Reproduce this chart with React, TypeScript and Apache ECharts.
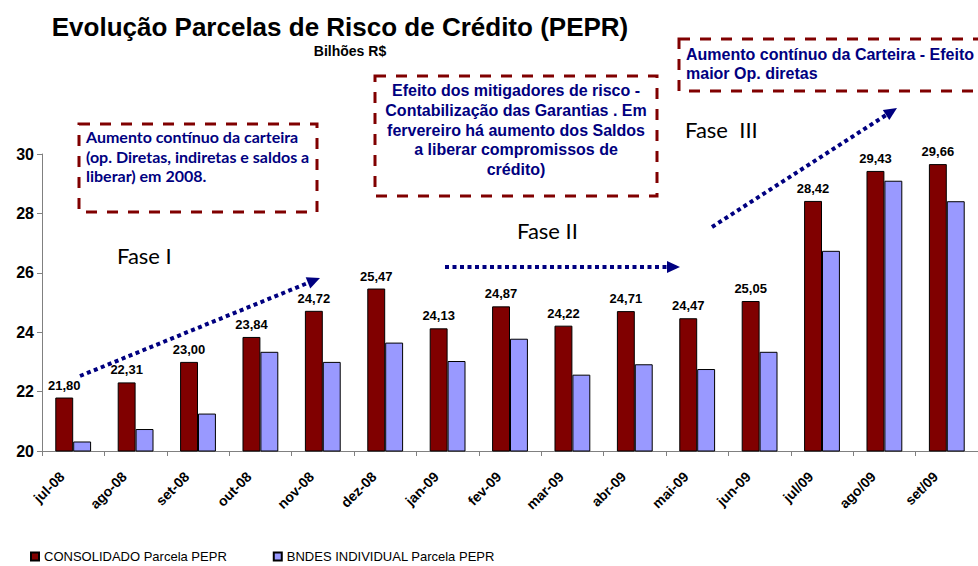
import React, { useEffect, useRef } from "react";
import * as echarts from "echarts";

const categories = ["jul-08", "ago-08", "set-08", "out-08", "nov-08", "dez-08", "jan-09", "fev-09", "mar-09", "abr-09", "mai-09", "jun-09", "jul/09", "ago/09", "set/09"];
const consolidado = [21.8, 22.31, 23.0, 23.84, 24.72, 25.47, 24.13, 24.87, 24.22, 24.71, 24.47, 25.05, 28.42, 29.43, 29.66];
const bndes = [20.32, 20.74, 21.26, 23.34, 23.0, 23.65, 23.03, 23.78, 22.57, 22.92, 22.76, 23.34, 26.74, 29.1, 28.41];
const seriesNames = ["CONSOLIDADO Parcela PEPR", "BNDES INDIVIDUAL Parcela PEPR"];
const yTicks = { min: 20, max: 30, interval: 2 };

const ARIAL = "'Liberation Sans', Arial, sans-serif";
const NAVY = "#000080";
const DARKRED = "#800000";

function arrow(x1: number, y1: number, x2: number, y2: number) {
  const ang = Math.atan2(y2 - y1, x2 - x1);
  const c = Math.cos(ang), s = Math.sin(ang);
  const L = 13, W = 6;
  const bx = x2 - L * c, by = y2 - L * s;
  return [
    {
      type: "line",
      shape: { x1, y1, x2: bx, y2: by },
      style: { stroke: NAVY, lineWidth: 4, lineDash: [4, 3.5] },
      silent: true,
    },
    {
      type: "polygon",
      shape: { points: [[x2, y2], [bx - W * s, by + W * c], [bx + W * s, by - W * c]] },
      style: { fill: NAVY },
      silent: true,
    },
  ];
}

function dashedBox(x: number, y: number, w: number, h: number) {
  return {
    type: "rect",
    shape: { x, y, width: w, height: h },
    style: { fill: "transparent", stroke: DARKRED, lineWidth: 3, lineDash: [11, 10] },
    silent: true,
  };
}

export default function App() {
  const ref = useRef<HTMLDivElement>(null);
  useEffect(() => {
    if (!ref.current) return;
    const chart = echarts.init(ref.current, undefined, { renderer: "svg" });
    const fmt = (v: number) => v.toFixed(2).replace(".", ",");
    chart.setOption({
      animation: false,
      backgroundColor: "#ffffff",
      grid: { left: 42, right: -5, top: 154, bottom: 115, containLabel: false },
      legend: {
        left: 30,
        top: 550,
        padding: 0,
        itemWidth: 8,
        itemHeight: 8,
        itemGap: 46,
        icon: "rect",
        textStyle: { fontFamily: ARIAL, fontSize: 13, color: "#000" },
        data: seriesNames,
      },
      xAxis: {
        type: "category",
        data: categories,
        axisLine: { lineStyle: { color: "#808080", width: 1 } },
        axisTick: { show: true, length: 5, lineStyle: { color: "#808080" } },
        axisLabel: {
          rotate: 45,
          margin: 12,
          padding: [0, 16, 0, 0],
          fontFamily: ARIAL,
          fontSize: 14,
          fontWeight: "bold",
          color: "#000",
          interval: 0,
        },
      },
      yAxis: {
        type: "value",
        min: yTicks.min,
        max: yTicks.max,
        interval: yTicks.interval,
        splitLine: { show: false },
        axisLine: { show: true, lineStyle: { color: "#808080", width: 1 } },
        axisTick: { show: true, length: 5, lineStyle: { color: "#808080" } },
        axisLabel: { fontFamily: ARIAL, fontSize: 16, fontWeight: "bold", color: "#000", margin: 8 },
      },
      series: [
        {
          name: seriesNames[0],
          type: "bar",
          data: consolidado,
          barGap: "0%",
          barCategoryGap: "42.6%",
          itemStyle: { color: DARKRED, borderColor: "#000", borderWidth: 1 },
          label: {
            show: true,
            position: "top",
            distance: 6,
            formatter: (p: any) => fmt(p.value),
            fontFamily: ARIAL,
            fontSize: 13,
            fontWeight: "bold",
            color: "#000",
          },
        },
        {
          name: seriesNames[1],
          type: "bar",
          data: bndes,
          barGap: "0%",
          barCategoryGap: "42.6%",
          itemStyle: { color: "#9999ff", borderColor: "#000", borderWidth: 1 },
        },
      ],
      graphic: [
        {
          type: "text",
          x: 340,
          y: 27,
          style: {
            text: "Evolução Parcelas de Risco de Crédito (PEPR)",
            fontFamily: ARIAL,
            fontSize: 26,
            fontWeight: "bold",
            fill: "#000",
            align: "center",
            verticalAlign: "middle",
          },
        },
        {
          type: "text",
          x: 350,
          y: 51,
          style: {
            text: "Bilhões R$",
            fontFamily: ARIAL,
            fontSize: 14,
            fontWeight: "bold",
            fill: "#000",
            align: "center",
            verticalAlign: "middle",
          },
        },
        dashedBox(79, 124, 238, 88),
        {
          type: "text",
          x: 86,
          y: 127,
          style: {
            text: "Aumento contínuo da carteira\n(op. Diretas, indiretas e saldos a\nliberar) em 2008.",
            fontFamily: "Lato, sans-serif",
            fontSize: 16,
            fontWeight: "bold",
            lineHeight: 19.5,
            fill: NAVY,
            align: "left",
            verticalAlign: "top",
          },
        },
        dashedBox(375, 76, 282, 120),
        {
          type: "text",
          x: 516,
          y: 81,
          style: {
            text: "Efeito dos mitigadores de risco -\nContabilização das Garantias . Em\nfervereiro há aumento dos Saldos\na liberar compromissos de\ncrédito)",
            fontFamily: ARIAL,
            fontSize: 16,
            fontWeight: "bold",
            lineHeight: 19.7,
            fill: NAVY,
            align: "center",
            verticalAlign: "top",
          },
        },
        dashedBox(679, 39, 310, 52),
        {
          type: "text",
          x: 686,
          y: 44.5,
          style: {
            text: "Aumento contínuo da Carteira - Efeito\nmaior Op. diretas",
            fontFamily: ARIAL,
            fontSize: 16,
            fontWeight: "bold",
            lineHeight: 19,
            fill: NAVY,
            align: "left",
            verticalAlign: "top",
          },
        },
        {
          type: "text",
          x: 117,
          y: 255,
          style: { text: "Fase I", fontFamily: "Lato, sans-serif", fontSize: 22, fill: "#000", align: "left", verticalAlign: "middle" },
        },
        {
          type: "text",
          x: 517,
          y: 230,
          style: { text: "Fase II", fontFamily: "Lato, sans-serif", fontSize: 22, fill: "#000", align: "left", verticalAlign: "middle" },
        },
        {
          type: "text",
          x: 685,
          y: 129,
          style: { text: "Fase  III", fontFamily: "Lato, sans-serif", fontSize: 22, fill: "#000", align: "left", verticalAlign: "middle" },
        },
        ...arrow(80, 376, 320, 278),
        ...arrow(445, 267, 680, 267),
        ...arrow(712, 227, 897, 108),
      ],
    });
    return () => chart.dispose();
  }, []);
  return <div ref={ref} style={{ width: 978, height: 566, position: "absolute", left: 0, top: 0 }} />;
}
